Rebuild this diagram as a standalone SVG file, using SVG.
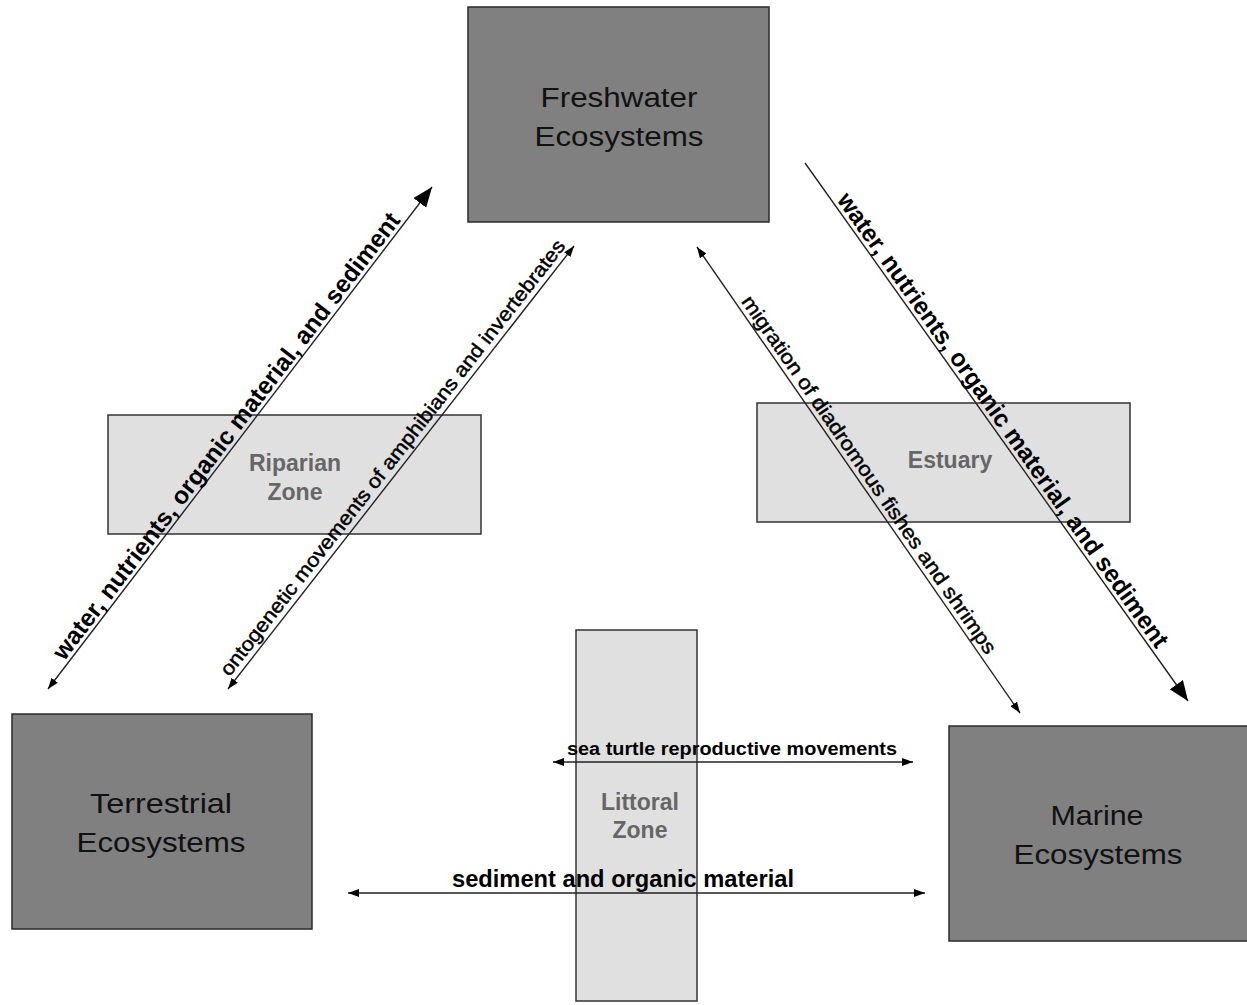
<svg xmlns="http://www.w3.org/2000/svg" width="1247" height="1005" viewBox="0 0 1247 1005">
<defs>
<style>
.eco{fill:#808080;stroke:#2a2a2a;stroke-width:1.5}
.zone{fill:#e0e0e0;stroke:#333;stroke-width:1.5}
.ecot{font-family:"Liberation Sans",Arial,sans-serif;font-size:27.5px;fill:#111;text-anchor:middle}
.zt{font-family:"Liberation Sans",Arial,sans-serif;font-size:23px;font-weight:bold;fill:#666;text-anchor:middle}
.ln{stroke:#222;stroke-width:1.4;fill:none}
.lb{font-family:"Liberation Sans",Arial,sans-serif;font-weight:bold;fill:#000}
.ls{font-family:"Liberation Sans",Arial,sans-serif;fill:#000;stroke:#000;stroke-width:0.45}
</style>
<marker id="big" viewBox="0 0 20 16" markerWidth="20" markerHeight="16" refX="20" refY="8" orient="auto-start-reverse" markerUnits="userSpaceOnUse">
<path d="M0,0 L20,8 L0,16 z" fill="#000"/>
</marker>
<marker id="sm" viewBox="0 0 11 8" markerWidth="11" markerHeight="8" refX="11" refY="4" orient="auto-start-reverse" markerUnits="userSpaceOnUse">
<path d="M0,0 L11,4 L0,8 z" fill="#000"/>
</marker>
</defs>
<rect width="1247" height="1005" fill="#fff"/>

<g id="riparian">
<rect class="zone" x="108" y="415" width="373" height="119"/>
<text class="zt" x="295" y="471">Riparian</text>
<text class="zt" x="295" y="500">Zone</text>
</g>
<g id="estuary">
<rect class="zone" x="757" y="403" width="373" height="119"/>
<text class="zt" x="950" y="468">Estuary</text>
</g>
<g id="littoral">
<rect class="zone" x="576" y="630" width="121" height="371"/>
<text class="zt" x="640" y="810">Littoral</text>
<text class="zt" x="640" y="838">Zone</text>
</g>

<g id="freshwater">
<rect class="eco" x="468" y="7" width="301" height="215"/>
<text class="ecot" x="619" y="107" textLength="157" lengthAdjust="spacingAndGlyphs">Freshwater</text>
<text class="ecot" x="619" y="146" textLength="169" lengthAdjust="spacingAndGlyphs">Ecosystems</text>
</g>
<g id="terrestrial">
<rect class="eco" x="12" y="714" width="300" height="215"/>
<text class="ecot" x="161" y="813" textLength="142" lengthAdjust="spacingAndGlyphs">Terrestrial</text>
<text class="ecot" x="161" y="852" textLength="169" lengthAdjust="spacingAndGlyphs">Ecosystems</text>
</g>
<g id="marine">
<rect class="eco" x="949" y="726" width="300" height="215"/>
<text class="ecot" x="1097" y="825" textLength="93" lengthAdjust="spacingAndGlyphs">Marine</text>
<text class="ecot" x="1098" y="864" textLength="169" lengthAdjust="spacingAndGlyphs">Ecosystems</text>
</g>

<g id="connectors">
<line class="ln" x1="48" y1="689" x2="432" y2="187" marker-start="url(#sm)" marker-end="url(#big)"/>
<text class="lb" font-size="24.5" text-anchor="middle" textLength="555" lengthAdjust="spacingAndGlyphs" transform="translate(232.7,441) rotate(-52.6)">water, nutrients, organic material, and sediment</text>

<line class="ln" x1="228" y1="689" x2="574" y2="246" marker-start="url(#sm)" marker-end="url(#sm)"/>
<text class="ls" font-size="20" text-anchor="middle" textLength="547" lengthAdjust="spacingAndGlyphs" transform="translate(397.9,461.8) rotate(-52)">ontogenetic movements of amphibians and invertebrates</text>

<line class="ln" x1="697" y1="247" x2="1020" y2="713" marker-start="url(#sm)" marker-end="url(#sm)"/>
<text class="ls" font-size="20" text-anchor="middle" textLength="431" lengthAdjust="spacingAndGlyphs" transform="translate(863.5,478.5) rotate(55.27)">migration of diadromous fishes and shrimps</text>

<line class="ln" x1="805" y1="163" x2="1188" y2="701" marker-end="url(#big)"/>
<text class="lb" font-size="24.5" text-anchor="middle" textLength="552" lengthAdjust="spacingAndGlyphs" transform="translate(996.3,424.8) rotate(54.56)">water, nutrients, organic material, and sediment</text>

<line class="ln" x1="553" y1="762" x2="913" y2="762" marker-start="url(#sm)" marker-end="url(#sm)"/>
<text class="lb" font-size="18" x="567" y="755" textLength="330" lengthAdjust="spacingAndGlyphs">sea turtle reproductive movements</text>

<line class="ln" x1="348" y1="893" x2="925" y2="893" marker-start="url(#sm)" marker-end="url(#sm)"/>
<text class="lb" font-size="23.5" x="452" y="887" textLength="342" lengthAdjust="spacingAndGlyphs">sediment and organic material</text>
</g>
</svg>
